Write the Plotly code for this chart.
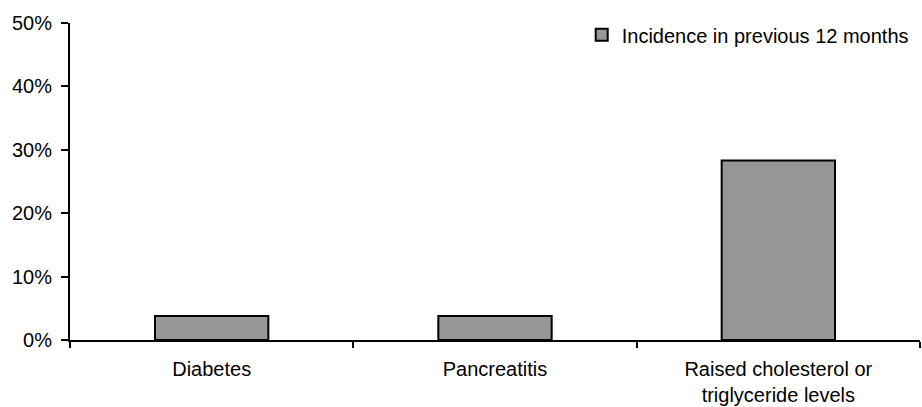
import plotly.graph_objects as go

# Chart data
categories = ['Diabetes', 'Pancreatitis', 'Raised cholesterol or<br>triglyceride levels']
incidence = [0.038, 0.038, 0.283]
series_name = 'Incidence in previous 12 months'

fig = go.Figure()
fig.add_trace(go.Bar(
    x=categories, y=incidence, name=series_name,
    marker=dict(color='#969696', line=dict(color='black', width=2)),
    width=0.4,
))

fig.update_layout(
    width=922, height=407,
    margin=dict(l=70, r=2, t=23, b=67),
    paper_bgcolor='white',
    plot_bgcolor='white',
    font=dict(family='Liberation Sans, Arial', size=20, color='black'),
    showlegend=True,
    legend=dict(x=0.602, xanchor='left', y=0.963, yanchor='middle',
                bgcolor='rgba(0,0,0,0)', font=dict(size=20),
                itemwidth=30),
)

fig.update_xaxes(
    showline=True, linecolor='black', linewidth=2,
    ticks='outside', tickson='boundaries', ticklen=6, tickwidth=2, tickcolor='black',
    showgrid=False, range=[-0.5, 2.5], automargin=False,
    ticklabelstandoff=10,
)
fig.update_yaxes(
    range=[0, 0.5], dtick=0.1, tickformat='.0%',
    showline=True, linecolor='black', linewidth=2,
    ticks='outside', ticklen=7, tickwidth=2, tickcolor='black',
    showgrid=False, zeroline=False, automargin=False,
    ticklabelstandoff=5,
)

# remove the default body margin so the figure sits at the page corner
fig.write_html('out.html', config={'displayModeBar': False},
               post_script="document.body.style.margin='0';")
